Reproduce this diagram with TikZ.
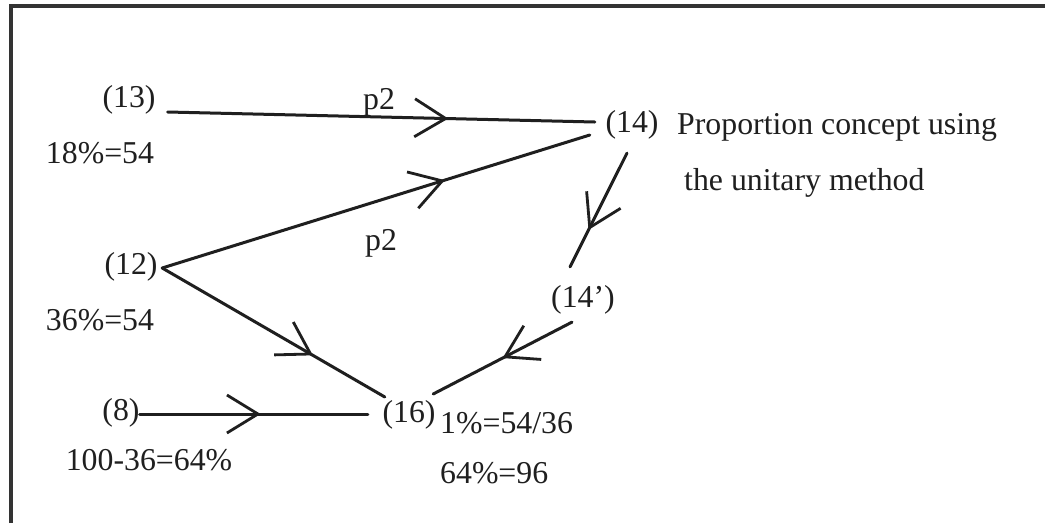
\documentclass[tikz,border=0pt]{standalone}
\usepackage{fontspec}
\setmainfont{Liberation Serif}
\usetikzlibrary{arrows.meta,decorations.markings}
\begin{document}
\begin{tikzpicture}[x=1pt,y=-1pt,
  lbl/.style={inner sep=0pt, text=black!88, font=\fontsize{31.8}{38}\selectfont},
  conn/.style={line width=3pt, draw=black!88, line cap=round},
  frame/.style={line width=3.2pt, draw=black!80},
  midarrow/.style={postaction={decorate}, decoration={markings, mark=at position #1 with {\arrow[black!88]{Straight Barb[length=31pt,width=38pt,line width=2.8pt]}}}}
]
\useasboundingbox (0,0) rectangle (1045,523);
\fill[white] (0,0) rectangle (1045,523);
% frame
\coordinate (fl) at (11,523);
\coordinate (fc) at (11,6);
\coordinate (fr) at (1045,6);
\draw[frame] (fl) -- (fc) -- (fr);

% nodes
\node[lbl] (n13) at (129,100) {(13)};
\node[lbl] (t13) at (100,153) {18\%=54};
\node[lbl] (n12) at (131,267) {(12)};
\node[lbl] (t12) at (100,320) {36\%=54};
\node[lbl] (n8) at (121,413) {(8)};
\node[lbl] (t8) at (149,460) {100-36=64\%};
\node[lbl] (n14) at (632,125) {(14)};
\node[lbl, anchor=west] (c1) at (677,127) {Proportion concept using};
\node[lbl, anchor=west] (c2) at (684,183) {the unitary method};
\node[lbl] (n14p) at (583,300) {(14’)};
\node[lbl] (n16) at (409,415) {(16)};
\node[lbl, anchor=west] (t16a) at (440,423) {1\%=54/36};
\node[lbl, anchor=west] (t16b) at (440,473) {64\%=96};
\node[lbl] (p2a) at (379,102) {p2};
\node[lbl] (p2b) at (381,243) {p2};

% connectors
\draw[conn, midarrow=0.657] ([shift={(12,12)}]n13.east) -- ([shift={(-10.5,-3)}]n14.west);
\draw[conn, midarrow=0.661] ([shift={(4.5,1)}]n12.east) -- ([shift={(-15.5,10)}]n14.west);
\draw[conn, midarrow=0.677] ([shift={(4.5,1)}]n12.east) -- ([shift={(2.5,-18)}]n16.west);
\draw[conn, midarrow=0.53] ([shift={(0,1)}]n8.east) -- ([shift={(-14.5,-1)}]n16.west);
\draw[conn, midarrow=0.675] ([shift={(-5,13.5)}]n14.south) -- ([shift={(-13,-18.5)}]n14p.north);
\draw[conn, midarrow=0.50] ([shift={(-11,7.5)}]n14p.south) -- ([shift={(-2.5,-21)}]n16.east);
\end{tikzpicture}
\end{document}
